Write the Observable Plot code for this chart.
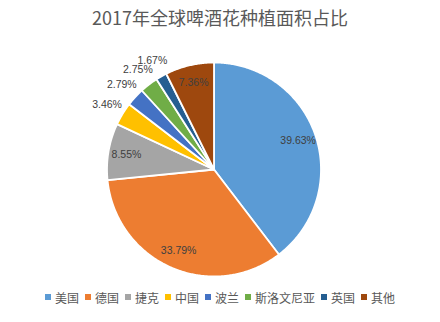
<!DOCTYPE html>
<html>
<head>
<meta charset="utf-8">
<script src="https://cdn.jsdelivr.net/npm/d3@7"></script>
<script src="https://cdn.jsdelivr.net/npm/@observablehq/plot@0.6"></script>
<style>
  html, body { margin: 0; padding: 0; background: #fff; }
  #wrap { width: 440px; height: 322px; position: relative; overflow: hidden; font-family: "Noto Sans CJK SC", sans-serif; }
  #title { height: 34px; line-height: 34px; text-align: center; font-size: 18px; color: #595959; }
  #legend { display: flex; justify-content: center; align-items: center; height: 26px; font-size: 12px; color: #595959; }
  .item { display: flex; align-items: center; margin: 0 3px; }
  .sw { width: 6px; height: 6px; margin-right: 4px; }
</style>
</head>
<body>
<div id="wrap">
  <div id="title"></div>
  <div id="chart"></div>
  <div id="legend"></div>
</div>
<script>
const titleText = "2017年全球啤酒花种植面积占比";
const categories = ["美国", "德国", "捷克", "中国", "波兰", "斯洛文尼亚", "英国", "其他"];
const shares = [39.63, 33.79, 8.55, 3.46, 2.79, 2.75, 1.67, 7.36];
const colors = ["#5B9BD5", "#ED7D31", "#A5A5A5", "#FFC000", "#4472C4", "#70AD47", "#255E91", "#9E480E"];

document.getElementById("title").textContent = titleText;

const data = categories.map((name, i) => ({name, value: shares[i]}));
const arcs = d3.pie().sort(null).value(d => d.value)(data);

// polygon outline of each slice (center + arc samples), in unit-circle coordinates
const poly = [];
arcs.forEach(a => {
  poly.push({name: a.data.name, x: 0, y: 0});
  const n = Math.max(2, Math.ceil((a.endAngle - a.startAngle) / 0.01));
  for (let k = 0; k <= n; k++) {
    const t = a.startAngle + (a.endAngle - a.startAngle) * k / n;
    poly.push({name: a.data.name, x: Math.sin(t), y: Math.cos(t)});
  }
});

const labels = arcs.map(a => {
  const mid = (a.startAngle + a.endAngle) / 2;
  const inside = a.data.value > 5;
  const r = inside ? 0.83 : 1.17;
  return {text: a.data.value.toFixed(2) + "%", x: r * Math.sin(mid), y: r * Math.cos(mid)};
});

const cx = 213.5, cy = 135, R = 107;
const chart = Plot.plot({
  width: 440,
  height: 250,
  margin: 0,
  x: {domain: [-1, 1], range: [cx - R, cx + R], axis: null},
  y: {domain: [-1, 1], range: [cy + R, cy - R], axis: null},
  color: {domain: categories, range: colors},
  style: {fontFamily: "Liberation Sans, Arial, sans-serif", background: "white"},
  marks: [
    Plot.line(poly, {x: "x", y: "y", z: "name", fill: "name", stroke: "white", strokeWidth: 1.8, curve: "linear-closed"}),
    Plot.text(labels, {x: "x", y: "y", text: "text", fill: "#404040", fontSize: 10.5})
  ]
});
document.getElementById("chart").appendChild(chart);

const legend = document.getElementById("legend");
categories.forEach((c, i) => {
  const it = document.createElement("div");
  it.className = "item";
  const sw = document.createElement("span");
  sw.className = "sw";
  sw.style.background = colors[i];
  const tx = document.createElement("span");
  tx.textContent = c;
  it.appendChild(sw); it.appendChild(tx);
  legend.appendChild(it);
});
</script>
</body>
</html>
